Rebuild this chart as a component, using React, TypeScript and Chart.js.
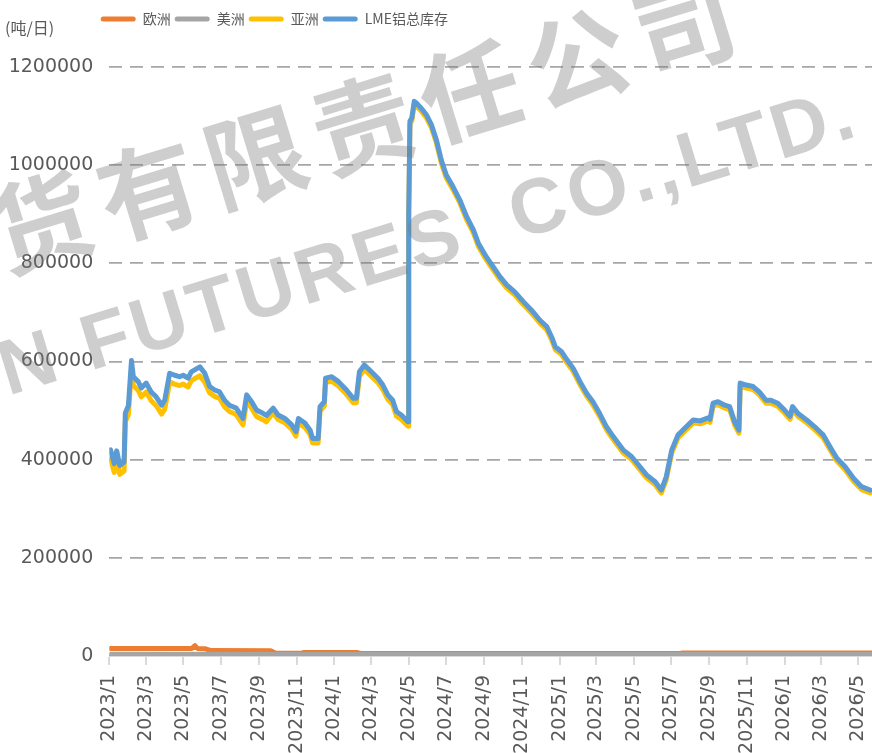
import React, { useEffect, useRef } from "react";
import { Chart, registerables } from "chart.js";

Chart.register(...registerables);

// ---------- data ----------
const axisStart = "2023-01-01";
const axisEnd = "2026-05-23";

const tickLabels = [
  "2023/1", "2023/3", "2023/5", "2023/7", "2023/9", "2023/11",
  "2024/1", "2024/3", "2024/5", "2024/7", "2024/9", "2024/11",
  "2025/1", "2025/3", "2025/5", "2025/7", "2025/9", "2025/11",
  "2026/1", "2026/3", "2026/5",
];

const yTicks = [0, 200000, 400000, 600000, 800000, 1000000, 1200000];

const totalDates = [
  "2023-01-03", "2023-01-09", "2023-01-13", "2023-01-18", "2023-01-25", "2023-01-27", "2023-02-01", "2023-02-06",
  "2023-02-09", "2023-02-17", "2023-02-22", "2023-03-02", "2023-03-10", "2023-03-18", "2023-03-27", "2023-04-01",
  "2023-04-09", "2023-04-17", "2023-04-25", "2023-05-01", "2023-05-09", "2023-05-14", "2023-05-28", "2023-06-05",
  "2023-06-13", "2023-06-21", "2023-06-29", "2023-07-07", "2023-07-15", "2023-07-26", "2023-08-06", "2023-08-12",
  "2023-08-20", "2023-08-28", "2023-09-08", "2023-09-13", "2023-09-24", "2023-10-02", "2023-10-13", "2023-10-24",
  "2023-10-31", "2023-11-04", "2023-11-15", "2023-11-23", "2023-11-27", "2023-12-06", "2023-12-09", "2023-12-16",
  "2023-12-18", "2023-12-28", "2024-01-08", "2024-01-21", "2024-02-01", "2024-02-06", "2024-02-11", "2024-02-19",
  "2024-02-27", "2024-03-12", "2024-03-20", "2024-03-28", "2024-04-05", "2024-04-11", "2024-04-19", "2024-04-30",
  "2024-05-01", "2024-05-03", "2024-05-06", "2024-05-10", "2024-05-14", "2024-05-22", "2024-05-30", "2024-06-07",
  "2024-06-15", "2024-06-23", "2024-07-01", "2024-07-12", "2024-07-23", "2024-08-03", "2024-08-14", "2024-08-22",
  "2024-09-04", "2024-09-15", "2024-09-26", "2024-10-07", "2024-10-20", "2024-11-03", "2024-11-16", "2024-11-30",
  "2024-12-11", "2024-12-19", "2024-12-25", "2025-01-04", "2025-01-12", "2025-01-23", "2025-02-03", "2025-02-14",
  "2025-02-24", "2025-03-07", "2025-03-18", "2025-03-29", "2025-04-14", "2025-04-28", "2025-05-11", "2025-05-22",
  "2025-06-05", "2025-06-15", "2025-06-23", "2025-07-02", "2025-07-12", "2025-07-23", "2025-08-06", "2025-08-17",
  "2025-08-30", "2025-09-02", "2025-09-07", "2025-09-15", "2025-09-26", "2025-10-04", "2025-10-12", "2025-10-19",
  "2025-10-21", "2025-10-31", "2025-11-11", "2025-11-21", "2025-12-02", "2025-12-10", "2025-12-21", "2026-01-01",
  "2026-01-10", "2026-01-14", "2026-01-23", "2026-02-06", "2026-02-19", "2026-03-05", "2026-03-16", "2026-03-27",
  "2026-04-09", "2026-04-23", "2026-05-06", "2026-05-20",
];

const totalValues = [
  420000, 392000, 418000, 388000, 395000, 495000, 510000, 602000,
  569000, 559000, 546000, 556000, 538000, 528000, 511000, 521000,
  576000, 572000, 569000, 572000, 566000, 579000, 589000, 576000,
  549000, 542000, 538000, 521000, 511000, 505000, 484000, 532000,
  518000, 501000, 494000, 490000, 505000, 491000, 484000, 471000,
  457000, 484000, 474000, 460000, 443000, 443000, 508000, 518000,
  566000, 569000, 559000, 542000, 525000, 525000, 579000, 593000,
  583000, 566000, 552000, 532000, 521000, 498000, 491000, 477000,
  900000, 1090000, 1096000, 1130000, 1126000, 1115000, 1102000, 1082000,
  1051000, 1010000, 980000, 956000, 929000, 895000, 868000, 841000,
  813000, 793000, 773000, 756000, 742000, 722000, 705000, 684000,
  671000, 650000, 630000, 620000, 605000, 586000, 559000, 535000,
  518000, 494000, 467000, 447000, 420000, 406000, 386000, 369000,
  355000, 338000, 365000, 420000, 450000, 464000, 481000, 479000,
  485000, 482000, 515000, 518000, 511000, 508000, 477000, 460000,
  556000, 552000, 549000, 538000, 521000, 521000, 515000, 501000,
  488000, 508000, 494000, 481000, 467000, 450000, 426000, 403000,
  386000, 362000, 345000, 338000,
];

const asiaValues = [
  402000, 374000, 400000, 370000, 377000, 477000, 492000, 584000,
  551000, 541000, 528000, 538000, 520000, 510000, 493000, 503000,
  558000, 554000, 551000, 554000, 548000, 561000, 571000, 558000,
  536000, 529000, 525000, 508000, 498000, 492000, 471000, 519000,
  505000, 488000, 481000, 477000, 496000, 482000, 475000, 462000,
  448000, 475000, 465000, 451000, 434000, 434000, 499000, 509000,
  557000, 560000, 550000, 533000, 516000, 516000, 570000, 584000,
  574000, 557000, 543000, 523000, 512000, 489000, 482000, 468000,
  894000, 1084000, 1090000, 1124000, 1120000, 1109000, 1096000, 1076000,
  1045000, 1004000, 974000, 950000, 923000, 889000, 862000, 835000,
  807000, 787000, 767000, 750000, 736000, 716000, 699000, 678000,
  665000, 644000, 624000, 614000, 599000, 580000, 553000, 529000,
  512000, 488000, 461000, 441000, 414000, 400000, 380000, 363000,
  349000, 332000, 359000, 414000, 444000, 458000, 475000, 473000,
  479000, 476000, 509000, 512000, 505000, 502000, 471000, 454000,
  550000, 546000, 543000, 532000, 515000, 515000, 509000, 495000,
  482000, 502000, 488000, 475000, 461000, 444000, 420000, 397000,
  380000, 356000, 339000, 332000,
];

const europeDates = [
  "2023-01-03", "2023-05-15", "2023-05-20", "2023-05-24", "2023-06-05", "2023-06-15",
  "2023-09-20", "2023-09-28", "2023-11-08", "2023-11-12", "2024-02-08", "2024-02-14",
  "2025-07-15", "2025-07-20", "2026-05-22",
];
const europeValues = [
  15500, 15500, 21000, 15500, 15000, 11000,
  10500, 5500, 5500, 7000, 7000, 5000,
  5000, 6000, 6000,
];

const americaDates = ["2023-01-03", "2024-05-01", "2026-05-22"];
const americaValues = [3500, 3000, 3000];

// ---------- helpers ----------
const BASE = Date.UTC(2023, 0, 1);
function dayOf(s: string): number {
  const parts = s.split(/[-/]/).map(Number);
  const y = parts[0];
  const m = parts[1];
  const d = parts.length > 2 ? parts[2] : 1;
  return Math.round((Date.UTC(y, m - 1, d) - BASE) / 86400000);
}
const tickMap: Record<number, string> = {};
tickLabels.forEach((l) => {
  tickMap[dayOf(l)] = l;
});
const pts = (dates: string[], vals: number[]) => dates.map((d, i) => ({ x: dayOf(d), y: vals[i] }));

const TICK_COLOR = "#595959";
const TICK_FONT = { family: '"DejaVu Sans", sans-serif', size: 19 };

// moves the (full width) legend so that it starts above the plot like the original
const legendShift = {
  id: "legendShift",
  afterLayout(chart: any) {
    if (chart.legend) {
      chart.legend.left = 96.7;
    }
  },
};

export default function App() {
  const ref = useRef<HTMLCanvasElement | null>(null);

  useEffect(() => {
    if (!ref.current) return;
    const chart = new Chart(ref.current, {
      type: "line",
      data: {
        datasets: [
          { label: "欧洲", data: pts(europeDates, europeValues), borderColor: "#ED7D31", backgroundColor: "#ED7D31", order: 4 },
          { label: "美洲", data: pts(americaDates, americaValues), borderColor: "#A5A5A5", backgroundColor: "#A5A5A5", order: 3 },
          { label: "亚洲", data: pts(totalDates, asiaValues), borderColor: "#FFC000", backgroundColor: "#FFC000", order: 2 },
          { label: "LME铝总库存", data: pts(totalDates, totalValues), borderColor: "#5B9BD5", backgroundColor: "#5B9BD5", order: 1 },
        ],
      },
      plugins: [legendShift],
      options: {
        animation: false,
        responsive: false,
        maintainAspectRatio: false,
        layout: { padding: { left: 0, top: 8, right: 0, bottom: 0 } },
        elements: {
          line: { borderWidth: 5, tension: 0, borderJoinStyle: "round", borderCapStyle: "round" },
          point: { radius: 0, hoverRadius: 0 },
        },
        plugins: {
          legend: {
            align: "start",
            labels: {
              boxWidth: 35,
              boxHeight: 5,
              padding: 4,
              color: TICK_COLOR,
              font: { family: '"Noto Sans CJK SC", sans-serif', size: 14 },
              useBorderRadius: true,
              borderRadius: 2.5,
              sort: (a: any, b: any) => a.datasetIndex - b.datasetIndex,
              generateLabels: (c: any) =>
                (Chart.defaults.plugins.legend.labels as any)
                  .generateLabels(c)
                  .map((it: any) => ({ ...it, fillStyle: it.strokeStyle, lineWidth: 0 })),
            },
          },
          title: {
            display: true,
            text: "",
            weight: 500,
            font: { size: 10, lineHeight: 1 },
            padding: { top: 0, bottom: 21 },
          } as any,
          tooltip: { enabled: false },
        },
        scales: {
          x: {
            type: "linear",
            min: dayOf(axisStart),
            max: dayOf(axisEnd),
            afterBuildTicks: (s: any) => {
              s.ticks = tickLabels.map((l) => ({ value: dayOf(l) }));
            },
            afterFit: (s: any) => {
              s.height = 97;
              s.paddingLeft = 0;
              s.paddingRight = 0;
            },
            ticks: {
              autoSkip: false,
              minRotation: 90,
              maxRotation: 90,
              padding: 10,
              color: TICK_COLOR,
              font: TICK_FONT,
              callback: (v: any) => tickMap[v as number] ?? "",
            },
            grid: { drawOnChartArea: false, drawTicks: true, tickLength: 9, color: "#d9d9d9", lineWidth: 2 },
            border: { display: true, color: "#d9d9d9", width: 1 },
          },
          y: {
            min: 0,
            max: 1200000,
            afterBuildTicks: (s: any) => {
              s.ticks = yTicks.map((v) => ({ value: v }));
            },
            afterFit: (s: any) => {
              s.width = 109.3;
            },
            ticks: {
              padding: 16,
              color: TICK_COLOR,
              font: TICK_FONT,
              callback: (v: any) => String(v),
            },
            grid: { color: "#a6a6a6", lineWidth: 1.75, drawTicks: false },
            border: { display: false, dash: [13, 8] },
          },
        },
      } as any,
    });
    return () => chart.destroy();
  }, []);

  return (
    <div style={{ position: "absolute", left: 0, top: 0, width: 872, height: 753, overflow: "hidden", background: "#fff" }}>
      <canvas ref={ref} width={872} height={753} style={{ display: "block", width: 872, height: 753 }} />
      <div
        style={{
          position: "absolute",
          left: 5,
          top: 16,
          font: '16px "Noto Sans CJK SC", sans-serif',
          lineHeight: "22px",
          color: TICK_COLOR,
          whiteSpace: "pre",
        }}
      >
        (吨/日)
      </div>
      <div
        style={{
          position: "absolute",
          left: -8,
          top: 182,
          transformOrigin: "0 50%",
          transform: "rotate(-17deg)",
          font: '700 100px "Noto Sans CJK SC", sans-serif',
          lineHeight: "100px",
          letterSpacing: "12px",
          color: "rgba(120,120,120,0.36)",
          whiteSpace: "pre",
          pointerEvents: "none",
        }}
      >
        货有限责任公司
      </div>
      <div
        style={{
          position: "absolute",
          left: 0,
          top: 330,
          transformOrigin: "0 50%",
          transform: "rotate(-17deg)",
          font: '700 78px "Liberation Sans", sans-serif',
          lineHeight: "80px",
          letterSpacing: "4px",
          color: "rgba(120,120,120,0.36)",
          whiteSpace: "pre",
          pointerEvents: "none",
        }}
      >
        {"N FUTURES  CO.,LTD."}
      </div>
    </div>
  );
}
